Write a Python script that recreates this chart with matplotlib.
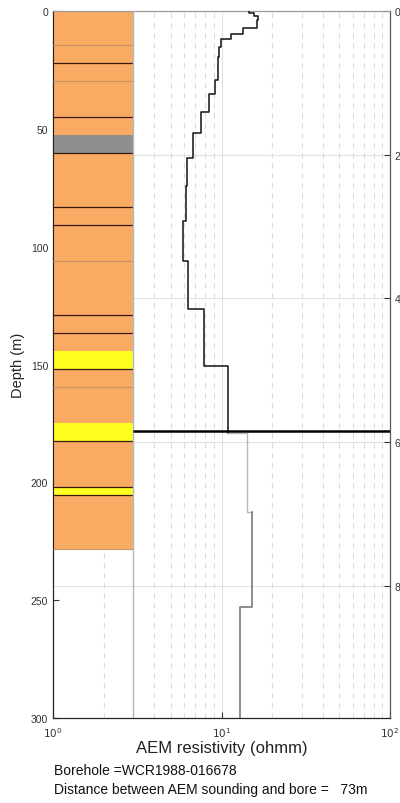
import numpy as np
import matplotlib
matplotlib.use('Agg')
import matplotlib.pyplot as plt

plt.rcParams['font.family'] = ['Liberation Sans', 'DejaVu Sans']

# lithology column (depth in m)
lith_top = [0, 14.4, 22.2, 29.8, 45.1, 52.6, 60.4, 83.3, 90.7, 106.2, 128.8, 136.8,
            144.1, 151.9, 159.7, 174.9, 182.3, 202.1, 205.2]
lith_bot = [14.4, 22.2, 29.8, 45.1, 52.6, 60.4, 83.3, 90.7, 106.2, 128.8, 136.8, 144.1,
            151.9, 159.7, 174.9, 182.3, 202.1, 205.2, 228.3]
lith_col = ['#f9aa63', '#f9aa63', '#f9aa63', '#f9aa63', '#f9aa63', '#8e8e8e', '#f9aa63',
            '#f9aa63', '#f9aa63', '#f9aa63', '#f9aa63', '#f9aa63', '#ffff22', '#f9aa63',
            '#f9aa63', '#ffff22', '#f9aa63', '#ffff22', '#f9aa63']
# bottom edge style: 'd' dark, 'f' faint, '' none
lith_edge = ['f', 'd', 'f', 'd', '', 'd', 'd', 'd', 'f', 'd', 'd', '', 'd', 'f', '', 'd', 'd', 'd', 'f']

# AEM resistivity model, upper part (above DOI)
aem_top = [0, 1, 2, 4, 7.2, 9.8, 11.9, 15.1, 19.7, 29.1, 35.2, 42.7, 51.8, 62.2, 74.4,
           89, 106, 126.4, 150.7]
aem_res = [14.6, 15.6, 16.5, 16.3, 13.5, 11.4, 9.9, 9.7, 9.5, 9.2, 8.47, 7.52, 6.75, 6.27,
           6.13, 5.94, 6.3, 7.9, 11.0]
aem_bot = 179.2
# lower part (below DOI)
low_top = [179.2, 212.6, 253]
low_res = [14.2, 15.2, 12.8]
low_bot = 300
doi = 178.1

borehole = 'WCR1988-016678'
distance = 73


def steps(tops, vals, bottom):
    bots = list(tops[1:]) + [bottom]
    xs, ys = [], []
    for t, b, v in zip(tops, bots, vals):
        xs += [v, v]
        ys += [t, b]
    return xs, ys


fig = plt.figure(figsize=(4, 8.04), dpi=100)
ax = fig.add_axes([0.1325, 0.1057, 0.8425, 0.8793])
ax2 = ax.twinx()
ax.set_zorder(ax2.get_zorder() + 1)
ax.patch.set_visible(False)

ax.set_xscale('log')
ax.set_xlim(1, 100)
ax.set_ylim(300, 0)
ax2.set_ylim(300 * 3.2808 / 100, 0)

# grid
ax.grid(True, which='major', axis='x', color='#e2e2e2', lw=0.8, zorder=0)
ax.grid(True, which='minor', axis='x', color='#dcdcdc', lw=0.8, ls=(0, (5, 4)), zorder=0)
ax2.grid(True, axis='y', color='#e2e2e2', lw=0.8)

# lithology column
for t, b, c, e in zip(lith_top, lith_bot, lith_col, lith_edge):
    ax.barh((t + b) / 2, 2, left=1, height=b - t, color=c, lw=0, zorder=2)
    if e == 'd':
        ax.hlines(b, 1, 3, color='#3a1c0c', lw=0.9, zorder=3)
    elif e == 'f':
        ax.hlines(b, 1, 3, color='#c8956a', lw=0.8, zorder=3)
ax.axvline(3, color='#a8bcc8', lw=1.0, zorder=3)

# resistivity
x1, y1 = steps(aem_top, aem_res, aem_bot)
ax.plot(x1, y1, color='#111111', lw=1.1, zorder=4)
x2, y2 = steps(low_top, low_res, low_bot)
x2 = [aem_res[-1]] + x2
y2 = [low_top[0]] + y2
ax.plot(x2[:4], y2[:4], color='#b8b8b8', lw=1.0, zorder=4)
ax.plot(x2[3:], y2[3:], color='#7a7a7a', lw=1.2, zorder=4)
ax.hlines(doi, 3, 100, color='k', lw=1.8, zorder=5)

# ticks
ax.set_xticks([1, 10, 100])
ax.set_xticklabels(['$10^0$', '$10^1$', '$10^2$'])
ax.set_yticks([0, 50, 100, 150, 200, 250, 300])
ax.tick_params(axis='both', which='major', direction='in', labelsize=7.5, colors='#333333', length=4)
ax.tick_params(axis='x', which='minor', length=0)
ax.tick_params(axis='x', pad=5)
ax2.set_yticks([0, 2, 4, 6, 8])
ax2.tick_params(axis='y', direction='in', labelsize=7.5, colors='#333333', length=4)

for a in (ax, ax2):
    a.spines['left'].set_color('#222222')
    a.spines['bottom'].set_color('#222222')
    a.spines['right'].set_color('#555555')
    a.spines['top'].set_color('#999999')

ax.set_ylabel('Depth (m)', fontsize=10.5, color='#222222', labelpad=4)
ax.set_xlabel('AEM resistivity (ohmm)', fontsize=12, color='#222222', labelpad=1)

fig.text(0.135, 0.036, 'Borehole =' + borehole, fontsize=10, color='#111111', va='baseline')
fig.text(0.135, 0.012, 'Distance between AEM sounding and bore =   %dm' % distance,
         fontsize=10, color='#111111', va='baseline')

fig.savefig('out.png', dpi=100)
